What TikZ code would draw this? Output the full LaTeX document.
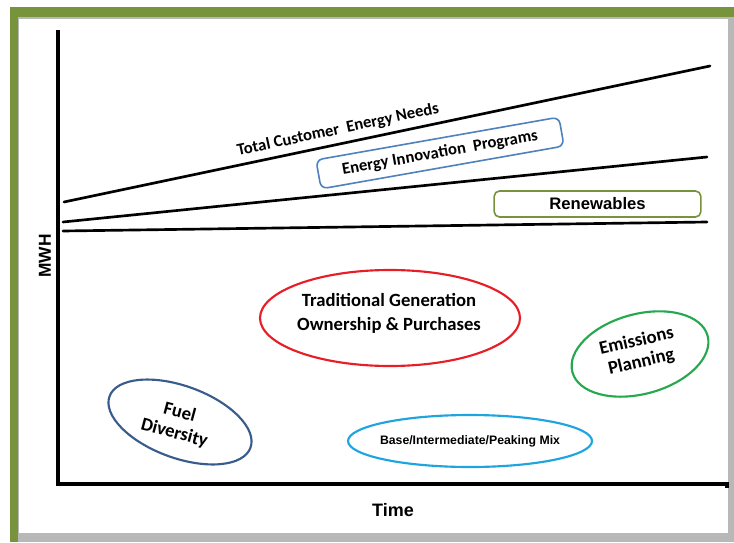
\documentclass[tikz,border=0pt]{standalone}
\usepackage{fontspec}
\setmainfont{Carlito}
\newfontfamily\arialfont{Liberation Sans}
\usetikzlibrary{shapes.geometric}
\definecolor{framegreen}{RGB}{119,147,60}
\definecolor{tradred}{RGB}{232,30,38}
\definecolor{progblue}{RGB}{79,129,189}
\definecolor{emisgreen}{RGB}{38,168,78}
\definecolor{fuelblue}{RGB}{58,92,140}
\definecolor{mixcyan}{RGB}{30,164,222}
\tikzset{every picture/.style={line width=0.75pt}}
\tikzset{
  chartline/.style={line width=2pt, line cap=round},
  ring/.style={line width=1.6pt},
  lbl/.style={inner sep=0.75pt, font=\bfseries\fontsize{12.5}{15}\selectfont},
  biglbl/.style={inner sep=0.75pt, align=center, font=\bfseries\fontsize{14}{18}\selectfont},
}

\begin{document}
\begin{tikzpicture}[x=0.75pt,y=0.75pt,yscale=-1,xscale=1]
\useasboundingbox (0,0) rectangle (734,542);

%Shape: Frame
\fill [framegreen] (10,7) rectangle (734,542) ;
\fill [black!28] (18,17) rectangle (734,542) ;
\fill [white] (19,19) rectangle (728,533) ;

%Straight Lines: axes
\coordinate (top) at (58,30) ;
\coordinate (origin) at (58,484) ;
\coordinate (tend) at (727,484) ;
\draw [line width=2.4pt] (top) -- (origin) -- (tend) -- ++(0,4) ;

%Straight Lines: chart lines
\coordinate (needsL) at (64,202) ;
\coordinate (needsR) at (710,66) ;
\coordinate (progL) at (63,222) ;
\coordinate (progR) at (707,157) ;
\coordinate (renewL) at (63,231) ;
\coordinate (renewR) at (707,222) ;
\draw [chartline] (needsL) -- (needsR) ;
\draw [chartline] (progL) -- (progR) ;
\draw [chartline] (renewL) -- (renewR) ;

%Shape: Ellipse
\draw [tradred, ring] (390,318) ellipse [x radius=130, y radius=48] ;
%Shape: Ellipse
\draw [emisgreen, ring, rotate around={-15:(640,354)}] (640,354) ellipse [x radius=70, y radius=40] ;
%Shape: Ellipse
\draw [fuelblue, ring, rotate around={20:(180,422)}] (180,422) ellipse [x radius=75, y radius=36] ;
%Shape: Ellipse
\draw [mixcyan, ring] (470,441) ellipse [x radius=122, y radius=26] ;

% Text Node
\draw (338,130) node (needs) [lbl, rotate=12] {Total Customer\ \ Energy Needs};
% Text Node
\draw (440,153) node (prog) [lbl, draw=progblue, line width=1.2pt, rounded corners=5pt, rotate=10, minimum width=185pt, minimum height=22pt] {Energy Innovation\ \ Programs};
% Text Node
\draw (597.5,204) node (renew) [draw=framegreen, line width=1.2pt, rounded corners=4pt, minimum width=155pt, minimum height=19.5pt, inner sep=0.75pt, font=\arialfont\bfseries\fontsize{12.5}{15}\selectfont] {Renewables};
% Text Node
\draw (389,313) node (trad) [biglbl] {Traditional Generation\\Ownership \& Purchases};
% Text Node
\draw (639,352) node (emis) [biglbl, rotate=13, font=\bfseries\fontsize{14}{16}\selectfont] {Emissions\\Planning};
% Text Node
\draw (177,423) node (fuel) [biglbl, rotate=-15, font=\bfseries\fontsize{14}{16}\selectfont] {Fuel\\Diversity};
% Text Node
\draw (470,441) node (mix) [inner sep=0.75pt, font=\arialfont\bfseries\fontsize{9.2}{11}\selectfont] {Base/Intermediate/Peaking Mix};
% Text Node
\draw (393,510) node (time) [inner sep=0.75pt, font=\arialfont\bfseries\fontsize{13.5}{16}\selectfont] {Time};
% Text Node
\draw (45,256) node (mwh) [inner sep=0.75pt, rotate=90, font=\arialfont\bfseries\fontsize{13}{16}\selectfont] {MWH};

\end{tikzpicture}
\end{document}
